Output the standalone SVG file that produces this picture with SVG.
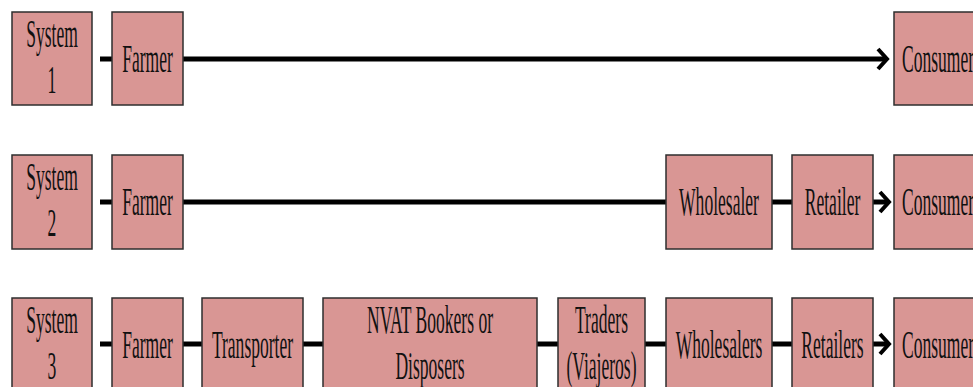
<svg xmlns="http://www.w3.org/2000/svg" width="973" height="387" viewBox="0 0 973 387">
<style>
.box{fill:#d99694;stroke:#2e2e2e;stroke-width:1.5}
.t{font-family:"Liberation Serif","Times New Roman",serif;font-size:39px;fill:#111;text-anchor:middle}
.ln{stroke:#000;stroke-width:5;fill:none}
.ah{stroke:#000;stroke-width:4;fill:none;stroke-linecap:butt;stroke-linejoin:miter}
</style>
<rect width="973" height="387" fill="#fff"/>
<g id="connectors">
  <line class="ln" x1="100" y1="59" x2="112" y2="59"/>
  <line class="ln" x1="183" y1="59" x2="885" y2="59"/>
  <polyline class="ah" points="878,49 887,59 878,69"/>
  <line class="ln" x1="100" y1="202" x2="112" y2="202"/>
  <line class="ln" x1="183" y1="202" x2="666" y2="202"/>
  <line class="ln" x1="772" y1="202" x2="792" y2="202"/>
  <line class="ln" x1="873" y1="202" x2="887" y2="202"/>
  <polyline class="ah" points="880,192 889,202 880,212"/>
  <line class="ln" x1="100" y1="344" x2="112" y2="344"/>
  <line class="ln" x1="183" y1="344" x2="202" y2="344"/>
  <line class="ln" x1="303" y1="344" x2="323" y2="344"/>
  <line class="ln" x1="537" y1="344" x2="558" y2="344"/>
  <line class="ln" x1="645" y1="344" x2="666" y2="344"/>
  <line class="ln" x1="772" y1="344" x2="792" y2="344"/>
  <line class="ln" x1="873" y1="344" x2="887" y2="344"/>
  <polyline class="ah" points="880,334 889,344 880,354"/>
</g>
<g id="sys1"><rect class="box" x="12" y="12" width="80" height="93"/>
<text class="t" transform="translate(52 47) scale(0.45 1)">System</text>
<text class="t" transform="translate(52 93) scale(0.45 1)">1</text></g>
<g id="farmer1"><rect class="box" x="112" y="12" width="71" height="93"/>
<text class="t" transform="translate(147.5 72) scale(0.45 1)">Farmer</text></g>
<g id="consumer1"><rect class="box" x="894" y="12" width="90" height="93"/>
<text class="t" transform="translate(938 72) scale(0.45 1)">Consumer</text></g>

<g id="sys2"><rect class="box" x="12" y="155" width="80" height="94"/>
<text class="t" transform="translate(52 190) scale(0.45 1)">System</text>
<text class="t" transform="translate(52 236) scale(0.45 1)">2</text></g>
<g id="farmer2"><rect class="box" x="112" y="155" width="71" height="94"/>
<text class="t" transform="translate(147.5 215) scale(0.45 1)">Farmer</text></g>
<g id="wholesaler2"><rect class="box" x="666" y="155" width="106" height="94"/>
<text class="t" transform="translate(719 215) scale(0.45 1)">Wholesaler</text></g>
<g id="retailer2"><rect class="box" x="792" y="155" width="81" height="94"/>
<text class="t" transform="translate(832.5 215) scale(0.45 1)">Retailer</text></g>
<g id="consumer2"><rect class="box" x="894" y="155" width="90" height="94"/>
<text class="t" transform="translate(938 215) scale(0.45 1)">Consumer</text></g>

<g id="sys3"><rect class="box" x="12" y="298" width="80" height="94"/>
<text class="t" transform="translate(52 333) scale(0.45 1)">System</text>
<text class="t" transform="translate(52 379) scale(0.45 1)">3</text></g>
<g id="farmer3"><rect class="box" x="112" y="298" width="71" height="94"/>
<text class="t" transform="translate(147.5 358) scale(0.45 1)">Farmer</text></g>
<g id="transporter3"><rect class="box" x="202" y="298" width="101" height="94"/>
<text class="t" transform="translate(252.5 358) scale(0.45 1)">Transporter</text></g>
<g id="nvat3"><rect class="box" x="323" y="298" width="214" height="94"/>
<text class="t" transform="translate(430 333) scale(0.45 1)">NVAT Bookers or</text>
<text class="t" transform="translate(430 379) scale(0.45 1)">Disposers</text></g>
<g id="traders3"><rect class="box" x="558" y="298" width="87" height="94"/>
<text class="t" transform="translate(601.5 333) scale(0.45 1)">Traders</text>
<text class="t" transform="translate(601.5 379) scale(0.45 1)">(Viajeros)</text></g>
<g id="wholesalers3"><rect class="box" x="666" y="298" width="106" height="94"/>
<text class="t" transform="translate(719 358) scale(0.45 1)">Wholesalers</text></g>
<g id="retailers3"><rect class="box" x="792" y="298" width="81" height="94"/>
<text class="t" transform="translate(832.5 358) scale(0.45 1)">Retailers</text></g>
<g id="consumer3"><rect class="box" x="894" y="298" width="90" height="94"/>
<text class="t" transform="translate(938 358) scale(0.45 1)">Consumer</text></g>
</svg>
